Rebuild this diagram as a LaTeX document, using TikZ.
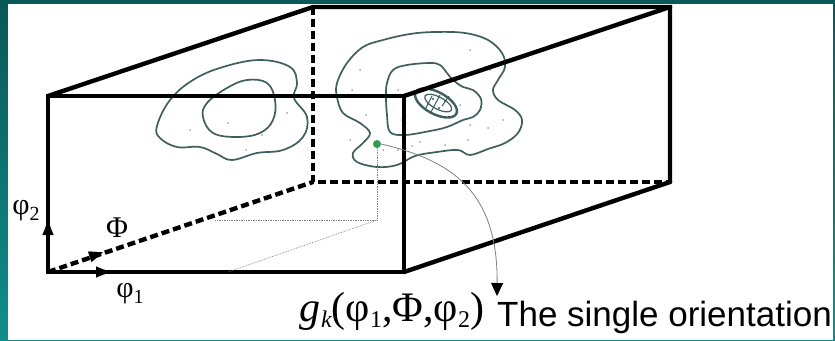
\documentclass[tikz,border=0pt]{standalone}
\usepackage{fontspec}
\setmainfont{Liberation Serif}
\newfontfamily\arialfont{Liberation Sans}
\usetikzlibrary{arrows.meta}
\definecolor{bgtop}{HTML}{0A5858}
\definecolor{bgbot}{HTML}{0F8E8B}
\definecolor{contourc}{HTML}{3E5F5C}
\definecolor{ptgreen}{HTML}{2F9C55}
\definecolor{dotc}{HTML}{9AA8A6}
\tikzset{
  edge/.style={line width=4.4pt, line cap=round, line join=miter},
  hidden/.style={line width=4.4pt, dash pattern=on 8pt off 4pt},
  contour/.style={contourc, line width=1.7pt},
  proj/.style={gray, line width=0.7pt, densely dotted},
  tipbig/.style={-{Triangle[length=14pt,width=11pt]}},
  dotp/.style={fill=dotc, circle, inner sep=0pt, minimum size=2pt},
  greek/.style={font=\fontsize{30}{30}\selectfont, inner sep=0pt},
}
\begin{document}
\begin{tikzpicture}[x=1pt,y=-1pt]
\useasboundingbox (0,0) rectangle (835,340);
\shade[top color=bgtop, bottom color=bgbot] (0,0) rectangle (835,340);
\fill[white] (8,4) rectangle (833,340);

% corners
\coordinate (A) at (48,96);
\coordinate (B) at (404,96);
\coordinate (C) at (404,272);
\coordinate (D) at (48,272);
\coordinate (E) at (313,7);
\coordinate (F) at (670,7);
\coordinate (G) at (670,182);
\coordinate (H) at (313,182);

% contours (left)
\draw[contour] plot[smooth cycle, tension=0.65] coordinates {(157,126) (170,100) (193,80) (223,67) (260,60) (290,67) (297,83) (294,98) (307,117) (303,137) (283,150) (257,153) (232,160) (217,154) (200,147) (177,147) (160,138)};
\draw[contour] plot[smooth cycle, tension=0.65] coordinates {(227,88) (247,80) (267,83) (275,100) (273,120) (260,133) (237,137) (213,133) (203,117) (207,103)};
% contours (right)
\draw[contour] plot[smooth cycle, tension=0.6] coordinates {(337,83) (347,63) (363,47) (383,40) (410,34) (435,32) (465,33) (488,40) (502,53) (505,67) (498,80) (493,90) (498,100) (515,110) (522,120) (518,133) (505,143) (488,149) (470,155) (458,150) (437,152) (415,156) (397,165) (377,167) (357,162) (353,153) (363,143) (370,133) (360,123) (343,113) (337,97)};
\draw[contour] plot[smooth cycle, tension=0.6] coordinates {(387,83) (393,70) (407,65) (430,63) (440,65) (447,73) (453,80) (463,87) (473,90) (481,99) (480,110) (473,117) (463,120) (447,127) (430,131) (405,135) (390,132) (387,115) (386,97)};
\draw[contour, line width=2.4pt, rotate around={-28:(436,103)}] (436,103) ellipse [x radius=23pt, y radius=11pt];
\draw[contour, line width=1.2pt, rotate around={-28:(436,103)}] (438,102) ellipse [x radius=15pt, y radius=6pt];
\draw[contour, line width=1pt] (425,110) -- (432,96) (431,112) -- (440,95) (442,106) -- (449,96);
\foreach \p in {(445,101),(428,104),(439,108),(433,99),(448,98)}
  \node[fill=contourc, circle, inner sep=0pt, minimum size=2.2pt] at \p {};
% scattered dots
\foreach \p in {(228,123),(262,135),(236,95),(287,113),(246,150),(190,130),
  (352,90),(366,115),(383,150),(398,150),(412,146),(468,140),(488,128),(503,120),(470,50),(490,70),(360,70),(402,120),(460,105),(398,90),(470,125),(420,142),(350,140),(445,145)}
  \node[dotp] at \p {};

% hidden edges
\draw[hidden] (E) -- (H) -- (G);
\draw[hidden] (D) -- (H);
% visible edges
\draw[edge] (A) -- (B) -- (C) -- (D) -- cycle;
\draw[edge] (A) -- (E) -- (F) -- (G);
\draw[edge] (B) -- (F);
\draw[edge] (C) -- (G);

% axis arrowheads
\coordinate (a2s) at (48,236);
\coordinate (a2e) at (48,221);
\draw[line width=0.1pt, tipbig] (a2s) -- (a2e);
\coordinate (a1s) at (94,272);
\coordinate (a1e) at (110,272);
\draw[line width=0.1pt, tipbig] (a1s) -- (a1e);
\coordinate (a3s) at (86,258);
\coordinate (a3e) at (103,252.3);
\draw[line width=0.1pt, tipbig] (a3s) -- (a3e);

% axis labels
\node[greek] (l2) at (26,211) {φ\raisebox{-6pt}{\fontsize{20}{20}\selectfont 2}};
\node[greek] (lP) at (117,228) {Φ};
\node[greek] (l1) at (130,294) {φ\raisebox{-6pt}{\fontsize{20}{20}\selectfont 1}};

% single orientation point
\node[fill=ptgreen, circle, inner sep=0pt, minimum size=8pt] (P) at (377,144) {};
\coordinate (Q) at (377,220);
\coordinate (Qa) at (215,220);
\coordinate (Qb) at (228,272);
\draw[proj] (P) -- (Q) -- (Qa);
\draw[proj] (Q) -- (Qb);
\coordinate (T) at (497,296);
\draw[gray, line width=0.8pt, -{Triangle[length=13pt,width=12pt,black]}] (P.east) .. controls (450,160) and (498,190) .. (T);

% labels below
\node[anchor=base west, inner sep=0pt, font=\fontsize{42}{42}\selectfont] (form) at (299,321)
  {\itshape g\kern1pt\raisebox{-6pt}{\fontsize{24}{24}\selectfont k}\upshape(φ\raisebox{-6pt}{\fontsize{24}{24}\selectfont 1},Φ,φ\raisebox{-6pt}{\fontsize{24}{24}\selectfont 2})};
\node[anchor=base west, inner sep=0pt, font=\arialfont\fontsize{35}{35}\selectfont] (txt) at (497,326) {The single orientation};
\end{tikzpicture}
\end{document}
